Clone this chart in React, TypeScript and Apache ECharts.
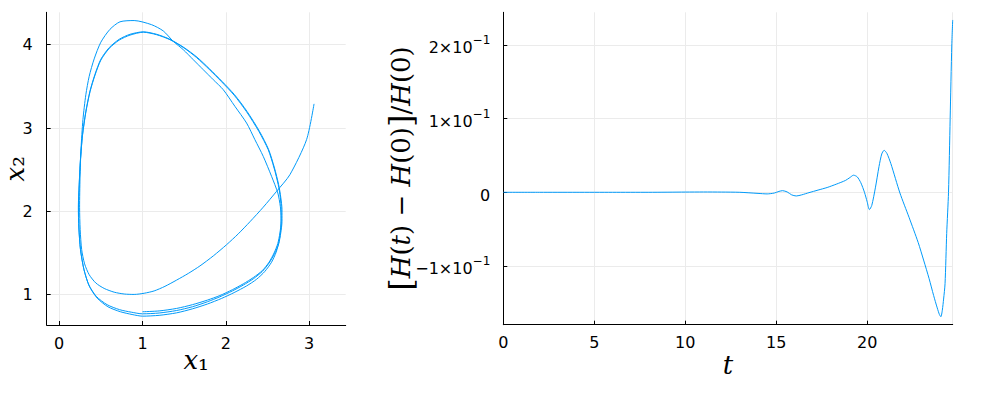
import React, { useEffect, useRef } from "react";
import * as echarts from "echarts";

// Phase trajectory (x1, x2)
const phaseX1 = [
  1.00, 1.20, 1.41, 1.60, 1.78, 1.93, 2.08, 2.21, 2.33, 2.44, 2.52, 2.58, 2.625, 2.65, 2.665, 2.665, 2.655, 2.63, 2.58, 2.51,
  2.40, 2.25, 2.10, 1.95, 1.80, 1.65, 1.50, 1.33, 1.17, 1.01, 0.85, 0.72, 0.60, 0.50, 0.43, 0.37, 0.32, 0.28, 0.255, 0.24,
  0.232, 0.237, 0.255, 0.295, 0.355, 0.445, 0.575, 0.725, 0.865,
  1.00, 1.20, 1.41, 1.60, 1.78, 1.93, 2.08, 2.21, 2.33, 2.44, 2.52, 2.585, 2.635, 2.66, 2.675, 2.675, 2.66, 2.635, 2.585, 2.515,
  2.405, 2.255, 2.105, 1.955, 1.805, 1.655, 1.50, 1.33, 1.17, 1.01, 0.85, 0.72, 0.60, 0.50, 0.43, 0.37, 0.32, 0.28, 0.255, 0.24,
  0.23, 0.236, 0.256, 0.298, 0.36, 0.455, 0.585, 0.735, 0.875,
  1.00, 1.20, 1.41, 1.60, 1.78, 1.95, 2.10, 2.25, 2.37, 2.47, 2.55, 2.605, 2.64, 2.66, 2.665, 2.655, 2.625, 2.55, 2.45, 2.35,
  2.25, 2.11, 1.97, 1.85, 1.73, 1.61, 1.49, 1.37, 1.25, 1.11, 0.90, 0.73, 0.61, 0.50, 0.42, 0.36, 0.32, 0.285, 0.262, 0.25,
  0.245, 0.252, 0.27, 0.305, 0.36, 0.44, 0.54, 0.66, 0.78, 0.90, 1.02, 1.14, 1.27, 1.41, 1.55, 1.69, 1.85, 2.01, 2.15, 2.29,
  2.45, 2.61, 2.77, 2.97, 3.06,
];
const phaseX2 = [
  0.795, 0.805, 0.835, 0.88, 0.935, 0.99, 1.06, 1.13, 1.205, 1.29, 1.39, 1.50, 1.615, 1.74, 1.88, 2.02, 2.17, 2.32, 2.52, 2.74,
  2.955, 3.195, 3.395, 3.555, 3.705, 3.845, 3.96, 4.06, 4.12, 4.15, 4.115, 4.055, 3.955, 3.815, 3.635, 3.435, 3.19, 2.91, 2.61, 2.31,
  2.05, 1.80, 1.545, 1.31, 1.12, 0.98, 0.88, 0.82, 0.79,
  0.77, 0.78, 0.81, 0.855, 0.915, 0.975, 1.045, 1.115, 1.19, 1.28, 1.38, 1.49, 1.61, 1.74, 1.88, 2.02, 2.17, 2.32, 2.52, 2.74,
  2.96, 3.20, 3.40, 3.56, 3.71, 3.85, 3.965, 4.065, 4.125, 4.155, 4.125, 4.065, 3.965, 3.825, 3.645, 3.445, 3.20, 2.92, 2.62, 2.32,
  2.05, 1.80, 1.54, 1.30, 1.105, 0.96, 0.855, 0.795, 0.762,
  0.742, 0.752, 0.782, 0.83, 0.888, 0.955, 1.025, 1.105, 1.185, 1.28, 1.39, 1.51, 1.64, 1.78, 1.92, 2.06, 2.22, 2.42, 2.66, 2.86,
  3.06, 3.26, 3.46, 3.58, 3.70, 3.82, 3.94, 4.04, 4.165, 4.24, 4.29, 4.275, 4.185, 4.03, 3.83, 3.62, 3.40, 3.10, 2.75, 2.40,
  2.05, 1.78, 1.54, 1.37, 1.24, 1.14, 1.075, 1.03, 1.008, 1.003, 1.017, 1.045, 1.10, 1.175, 1.255, 1.345, 1.465, 1.60, 1.73, 1.875,
  2.05, 2.24, 2.44, 2.86, 3.29,
];

// Relative energy error vs time
const timeT = [
  0, 2, 4, 6, 8, 10, 11, 12, 13, 14, 14.5, 14.9, 15.15, 15.35, 15.6, 15.85, 16.1, 16.4, 16.8, 17.3,
  17.8, 18.3, 18.8, 19.05, 19.25, 19.45, 19.65, 19.85, 20.0, 20.12, 20.25, 20.45, 20.65, 20.8, 20.93, 21.08, 21.3, 21.8, 22.3, 22.8,
  23.1, 23.4, 23.65, 23.85, 23.97, 24.05, 24.13, 24.2, 24.28, 24.37, 24.47, 24.56, 24.65, 24.7,
];
const energyErr = [
  0, 0, 0, 0, 0, 0.0003, 0.0004, 0.0003, 0, -0.0015, -0.0022, -0.001, 0.0012, 0.0022, 0.0005, -0.0035, -0.005, -0.0035, -0.0005, 0.003,
  0.0065, 0.011, 0.016, 0.020, 0.0232, 0.021, 0.013, 0.0, -0.013, -0.0235, -0.018, 0.006, 0.035, 0.052, 0.057, 0.053, 0.039, -0.001, -0.034, -0.068,
  -0.092, -0.117, -0.14, -0.157, -0.166, -0.169, -0.16, -0.145, -0.124, -0.056, 0, 0.1, 0.2, 0.234,
];

const xTicksLeft = [0, 1, 2, 3];
const yTicksLeft = [1, 2, 3, 4];
const yTicksRight = [-0.1, 0, 0.1, 0.2];

const LINE = "#009af9";
const GRIDC = "#ebebeb";
const SANS = "DejaVu Sans";
const SERIF = "DejaVu Serif";

const titleRich = {
  i: { fontFamily: SERIF, fontStyle: "italic", fontSize: 26, lineHeight: 26, color: "#000" },
  r: { fontFamily: SERIF, fontSize: 26, lineHeight: 26, color: "#000" },
  u: { fontFamily: SERIF, fontSize: 27, lineHeight: 26, color: "#000" },
  b: { fontFamily: SERIF, fontSize: 32, lineHeight: 26, color: "#000" },
};

const tickRich = {
  a: { fontFamily: SANS, fontSize: 16, lineHeight: 22, verticalAlign: "bottom", color: "#000" },
  e: { fontFamily: SANS, fontSize: 12, lineHeight: 22, verticalAlign: "top", color: "#000" },
};

function sciLabel(v: number): string {
  const m = Math.round(v * 10);
  if (m === 0) return "{a|0}";
  const ms = m < 0 ? "\u2212" + Math.abs(m) : String(m);
  return "{a|" + ms + "\u00d710}{e|\u22121}";
}

export default function App() {
  const ref = useRef<HTMLDivElement>(null);
  useEffect(() => {
    const chart = echarts.init(ref.current!, null, { renderer: "svg" });
    const phase = phaseX1.map((x, i) => [x, phaseX2[i]]);
    const energy = timeT.map((t, i) => [t, energyErr[i]]);
    const axisCommon = {
      nameMoveOverlap: false,
      axisLine: { show: true, onZero: false, lineStyle: { color: "#000", width: 1 } },
      axisTick: { show: true, inside: true, length: 4, lineStyle: { color: "#000", width: 1 } },
      splitLine: { show: true, lineStyle: { color: GRIDC, width: 1 } },
      axisLabel: { color: "#000", fontFamily: SANS, fontSize: 16 },
    };
    chart.setOption({
      animation: false,
      backgroundColor: "#fff",
      grid: [
        { left: 46.7, top: 12.3, width: 299, height: 312.7, containLabel: false, outerBoundsMode: "none" },
        { left: 503.3, top: 12.3, width: 449.4, height: 312.4, containLabel: false, outerBoundsMode: "none" },
      ],
      xAxis: [
        {
          type: "value", gridIndex: 0, min: -0.15, max: 3.44,
          ...axisCommon,
          axisTick: { ...axisCommon.axisTick, customValues: xTicksLeft },
          axisLabel: { ...axisCommon.axisLabel, margin: 10, customValues: xTicksLeft },
          name: "{i|x}{u|\u2081}", nameLocation: "middle", nameGap: 22,
          nameTextStyle: { rich: titleRich },
        },
        {
          type: "value", gridIndex: 1, min: 0, max: 24.7, interval: 5,
          ...axisCommon,
          axisLabel: { ...axisCommon.axisLabel, margin: 10, showMaxLabel: false },
          name: "{i|t}", nameLocation: "middle", nameGap: 27,
          nameTextStyle: { rich: titleRich },
        },
      ],
      yAxis: [
        {
          type: "value", gridIndex: 0, min: 0.636, max: 4.389,
          ...axisCommon,
          axisTick: { ...axisCommon.axisTick, customValues: yTicksLeft },
          axisLabel: { ...axisCommon.axisLabel, margin: 14, customValues: yTicksLeft },
          name: "{i|x}{u|\u2082}", nameLocation: "middle", nameGap: 19, nameRotate: 90,
          nameTextStyle: { rich: titleRich },
        },
        {
          type: "value", gridIndex: 1, min: -0.1798, max: 0.2444,
          ...axisCommon,
          axisTick: { ...axisCommon.axisTick, customValues: yTicksRight },
          axisLabel: {
            ...axisCommon.axisLabel, margin: 13, customValues: yTicksRight,
            formatter: (v: number) => sciLabel(v), rich: tickRich,
          },
          name: "{b|[}{i|H}{r|(}{i|t}{r|) \u2212 }{i|H}{r|(0)}{b|]}{r|/}{i|H}{r|(0)}",
          nameLocation: "middle", nameGap: 89, nameRotate: 90,
          nameTextStyle: { rich: titleRich },
        },
      ],
      series: [
        {
          type: "line", xAxisIndex: 0, yAxisIndex: 0, data: phase,
          showSymbol: false, smooth: 0.25, lineStyle: { color: LINE, width: 1 }, itemStyle: { color: LINE },
        },
        {
          type: "line", xAxisIndex: 1, yAxisIndex: 1, data: energy,
          showSymbol: false, smooth: 0.25, lineStyle: { color: LINE, width: 1 }, itemStyle: { color: LINE },
        },
      ],
    });
    return () => chart.dispose();
  }, []);
  return (
    <div
      ref={ref}
      style={{ position: "fixed", left: 0, top: 0, width: 1000, height: 400, background: "#fff" }}
    />
  );
}
